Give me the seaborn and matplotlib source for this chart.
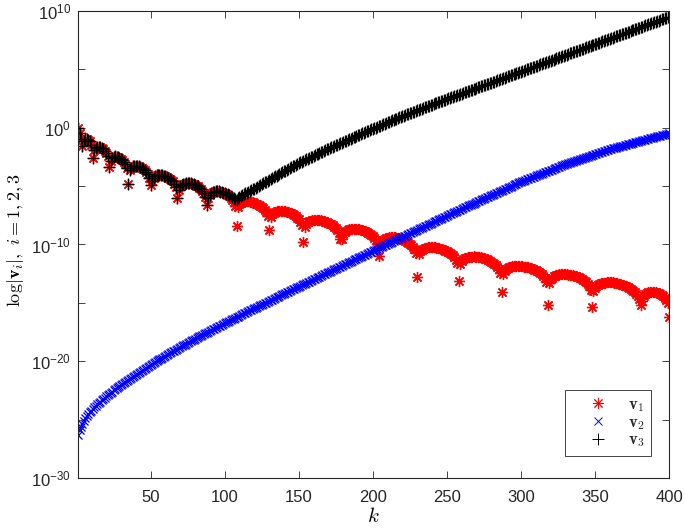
import numpy as np
import pandas as pd
import matplotlib
matplotlib.use("Agg")
import matplotlib.pyplot as plt
import seaborn as sns
from matplotlib.ticker import FixedLocator, NullFormatter, NullLocator, LogFormatterSciNotation
from matplotlib.lines import Line2D

# log10 of |v_i|, one value per k = 1..400 (rows of 10)
v1_log10 = [
    0.0, -0.45, -1.0, -1.6, -1.15, -1.0, -0.98, -1.02, -1.15, -1.45,
    -2.6, -1.92, -1.71, -1.64, -1.63, -1.66, -1.72, -1.82, -1.95, -2.15,
    -2.42, -3.35, -2.87, -2.59, -2.49, -2.46, -2.47, -2.51, -2.58, -2.65,
    -2.76, -2.92, -3.13, -3.47, -4.8, -3.66, -3.41, -3.31, -3.27, -3.26,
    -3.28, -3.32, -3.37, -3.43, -3.52, -3.64, -3.78, -3.99, -4.33, -4.9,
    -4.53, -4.27, -4.14, -4.07, -4.04, -4.03, -4.04, -4.06, -4.10, -4.14,
    -4.19, -4.27, -4.35, -4.46, -4.60, -4.78, -5.06, -6.0, -5.32, -5.03,
    -4.90, -4.82, -4.78, -4.75, -4.74, -4.75, -4.77, -4.80, -4.84, -4.89,
    -4.95, -5.03, -5.12, -5.24, -5.39, -5.59, -5.93, -6.6, -6.0, -5.73,
    -5.60, -5.52, -5.48, -5.45, -5.45, -5.45, -5.47, -5.50, -5.55, -5.61,
    -5.68, -5.76, -5.87, -5.99, -6.15, -6.35, -6.70, -8.4, -6.82, -6.56,
    -6.44, -6.37, -6.33, -6.31, -6.31, -6.31, -6.33, -6.36, -6.40, -6.44,
    -6.49, -6.54, -6.61, -6.69, -6.79, -6.90, -7.05, -7.26, -7.59, -8.75,
    -7.67, -7.41, -7.28, -7.19, -7.15, -7.12, -7.10, -7.10, -7.11, -7.13,
    -7.15, -7.18, -7.22, -7.28, -7.33, -7.40, -7.49, -7.58, -7.69, -7.84,
    -8.05, -8.37, -9.8, -8.49, -8.22, -8.08, -7.99, -7.95, -7.92, -7.89,
    -7.88, -7.89, -7.90, -7.91, -7.93, -7.97, -8.00, -8.04, -8.09, -8.14,
    -8.21, -8.28, -8.37, -8.47, -8.60, -8.77, -9.02, -9.51, -9.55, -9.11,
    -8.92, -8.81, -8.74, -8.69, -8.66, -8.65, -8.64, -8.65, -8.66, -8.68,
    -8.70, -8.73, -8.77, -8.81, -8.87, -8.92, -8.99, -9.08, -9.17, -9.28,
    -9.43, -9.63, -9.96, -11.0, -10.01, -9.74, -9.61, -9.52, -9.47, -9.43,
    -9.40, -9.39, -9.38, -9.39, -9.40, -9.42, -9.45, -9.48, -9.53, -9.57,
    -9.63, -9.69, -9.76, -9.85, -9.95, -10.06, -10.22, -10.41, -10.74, -12.8,
    -10.84, -10.57, -10.43, -10.35, -10.29, -10.26, -10.23, -10.22, -10.22, -10.22,
    -10.23, -10.25, -10.27, -10.30, -10.33, -10.37, -10.41, -10.46, -10.52, -10.58,
    -10.65, -10.73, -10.82, -10.94, -11.09, -11.29, -11.61, -13.1, -11.69, -11.41,
    -11.28, -11.17, -11.12, -11.08, -11.05, -11.04, -11.03, -11.02, -11.03, -11.05,
    -11.07, -11.09, -11.11, -11.15, -11.19, -11.22, -11.27, -11.33, -11.39, -11.46,
    -11.55, -11.64, -11.75, -11.91, -12.09, -12.43, -14.05, -12.50, -12.23, -12.09,
    -11.99, -11.93, -11.89, -11.86, -11.84, -11.83, -11.82, -11.83, -11.84, -11.84,
    -11.87, -11.89, -11.91, -11.94, -11.97, -12.01, -12.05, -12.10, -12.15, -12.21,
    -12.29, -12.36, -12.45, -12.57, -12.71, -12.90, -13.22, -15.2, -13.26, -12.99,
    -12.83, -12.74, -12.67, -12.62, -12.60, -12.57, -12.55, -12.55, -12.55, -12.55,
    -12.56, -12.58, -12.60, -12.62, -12.65, -12.69, -12.73, -12.77, -12.82, -12.89,
    -12.96, -13.03, -13.12, -13.23, -13.38, -13.58, -13.89, -15.35, -13.99, -13.71,
    -13.55, -13.45, -13.39, -13.34, -13.30, -13.28, -13.26, -13.25, -13.25, -13.24,
    -13.25, -13.25, -13.28, -13.29, -13.31, -13.35, -13.39, -13.43, -13.47, -13.52,
    -13.58, -13.64, -13.71, -13.78, -13.87, -13.96, -14.07, -14.21, -14.39, -14.65,
    -15.22, -14.82, -14.43, -14.26, -14.17, -14.11, -14.07, -14.06, -14.06, -14.07,
    -14.10, -14.13, -14.18, -14.25, -14.33, -14.43, -14.56, -14.74, -15.0, -16.2,
]

v2_log10 = [
    -26.30, -25.90, -25.60, -25.34, -25.11, -24.90, -24.71, -24.54, -24.38, -24.23,
    -24.09, -23.95, -23.82, -23.69, -23.57, -23.45, -23.34, -23.22, -23.12, -23.01,
    -22.91, -22.80, -22.70, -22.60, -22.50, -22.40, -22.31, -22.21, -22.12, -22.02,
    -21.93, -21.84, -21.75, -21.66, -21.57, -21.48, -21.40, -21.31, -21.23, -21.14,
    -21.05, -20.97, -20.89, -20.81, -20.73, -20.64, -20.56, -20.48, -20.40, -20.31,
    -20.24, -20.16, -20.08, -20.00, -19.92, -19.84, -19.77, -19.69, -19.61, -19.53,
    -19.46, -19.38, -19.31, -19.23, -19.16, -19.09, -19.01, -18.94, -18.86, -18.79,
    -18.72, -18.65, -18.58, -18.51, -18.44, -18.36, -18.29, -18.22, -18.15, -18.08,
    -18.01, -17.95, -17.88, -17.81, -17.74, -17.67, -17.61, -17.54, -17.47, -17.40,
    -17.33, -17.27, -17.20, -17.14, -17.07, -17.01, -16.94, -16.87, -16.81, -16.74,
    -16.68, -16.61, -16.55, -16.49, -16.42, -16.36, -16.29, -16.23, -16.17, -16.10,
    -16.04, -15.97, -15.91, -15.85, -15.78, -15.72, -15.65, -15.59, -15.53, -15.46,
    -15.40, -15.34, -15.28, -15.21, -15.15, -15.09, -15.03, -14.97, -14.90, -14.84,
    -14.78, -14.72, -14.66, -14.59, -14.53, -14.47, -14.41, -14.35, -14.28, -14.22,
    -14.16, -14.10, -14.04, -13.97, -13.91, -13.85, -13.79, -13.73, -13.66, -13.60,
    -13.54, -13.48, -13.42, -13.36, -13.30, -13.23, -13.17, -13.11, -13.05, -12.99,
    -12.93, -12.87, -12.81, -12.75, -12.69, -12.62, -12.56, -12.50, -12.44, -12.38,
    -12.32, -12.26, -12.20, -12.14, -12.08, -12.01, -11.95, -11.89, -11.83, -11.77,
    -11.71, -11.65, -11.59, -11.53, -11.47, -11.40, -11.34, -11.28, -11.22, -11.16,
    -11.10, -11.04, -10.98, -10.92, -10.86, -10.79, -10.73, -10.67, -10.61, -10.55,
    -10.49, -10.43, -10.37, -10.31, -10.25, -10.19, -10.13, -10.07, -10.01, -9.95,
    -9.89, -9.83, -9.77, -9.71, -9.65, -9.59, -9.53, -9.47, -9.41, -9.35,
    -9.29, -9.23, -9.17, -9.11, -9.05, -8.99, -8.93, -8.87, -8.81, -8.75,
    -8.69, -8.63, -8.57, -8.51, -8.45, -8.39, -8.33, -8.27, -8.21, -8.15,
    -8.09, -8.03, -7.97, -7.91, -7.85, -7.79, -7.73, -7.67, -7.61, -7.55,
    -7.49, -7.43, -7.37, -7.31, -7.25, -7.19, -7.13, -7.07, -7.01, -6.95,
    -6.89, -6.83, -6.78, -6.72, -6.66, -6.60, -6.54, -6.49, -6.43, -6.37,
    -6.31, -6.25, -6.20, -6.14, -6.08, -6.02, -5.96, -5.91, -5.85, -5.79,
    -5.73, -5.67, -5.62, -5.56, -5.50, -5.44, -5.38, -5.33, -5.27, -5.21,
    -5.15, -5.09, -5.04, -4.98, -4.92, -4.86, -4.80, -4.75, -4.69, -4.63,
    -4.58, -4.53, -4.48, -4.43, -4.38, -4.33, -4.28, -4.23, -4.18, -4.13,
    -4.08, -4.03, -3.98, -3.93, -3.88, -3.83, -3.78, -3.73, -3.68, -3.63,
    -3.58, -3.53, -3.48, -3.43, -3.38, -3.33, -3.28, -3.23, -3.18, -3.13,
    -3.09, -3.04, -3.00, -2.96, -2.91, -2.87, -2.83, -2.79, -2.74, -2.70,
    -2.66, -2.61, -2.57, -2.53, -2.48, -2.44, -2.40, -2.36, -2.31, -2.27,
    -2.23, -2.18, -2.14, -2.10, -2.05, -2.01, -1.97, -1.93, -1.88, -1.84,
    -1.81, -1.77, -1.74, -1.70, -1.67, -1.64, -1.60, -1.57, -1.53, -1.50,
    -1.47, -1.43, -1.40, -1.36, -1.33, -1.30, -1.26, -1.23, -1.19, -1.16,
    -1.13, -1.09, -1.06, -1.02, -0.99, -0.96, -0.92, -0.89, -0.85, -0.82,
    -0.79, -0.75, -0.72, -0.68, -0.65, -0.62, -0.58, -0.55, -0.51, -0.48,
]

v3_log10 = [
    0.0, -0.45, -1.0, -1.6, -1.15, -1.0, -0.98, -1.02, -1.15, -1.45,
    -2.6, -1.92, -1.71, -1.64, -1.63, -1.66, -1.72, -1.82, -1.95, -2.15,
    -2.42, -3.35, -2.87, -2.59, -2.49, -2.46, -2.47, -2.51, -2.58, -2.65,
    -2.76, -2.92, -3.13, -3.47, -4.8, -3.66, -3.41, -3.31, -3.27, -3.26,
    -3.28, -3.32, -3.37, -3.43, -3.52, -3.64, -3.78, -3.99, -4.33, -4.9,
    -4.53, -4.27, -4.14, -4.07, -4.04, -4.03, -4.04, -4.06, -4.10, -4.14,
    -4.19, -4.27, -4.35, -4.46, -4.60, -4.78, -5.06, -6.0, -5.32, -5.03,
    -4.90, -4.82, -4.78, -4.75, -4.74, -4.75, -4.77, -4.80, -4.84, -4.89,
    -4.95, -5.03, -5.12, -5.24, -5.39, -5.59, -5.93, -6.6, -6.0, -5.73,
    -5.60, -5.52, -5.48, -5.45, -5.45, -5.45, -5.47, -5.50, -5.55, -5.58,
    -5.64, -5.71, -5.80, -5.88, -5.97, -6.05, -6.14, -6.20, -6.04, -5.93,
    -5.84, -5.76, -5.69, -5.62, -5.56, -5.49, -5.42, -5.36, -5.29, -5.21,
    -5.14, -5.07, -4.99, -4.91, -4.83, -4.75, -4.68, -4.61, -4.53, -4.46,
    -4.39, -4.32, -4.25, -4.17, -4.10, -4.03, -3.96, -3.89, -3.81, -3.74,
    -3.67, -3.60, -3.53, -3.45, -3.38, -3.31, -3.24, -3.17, -3.09, -3.03,
    -2.97, -2.90, -2.84, -2.78, -2.72, -2.66, -2.60, -2.53, -2.47, -2.41,
    -2.35, -2.29, -2.23, -2.16, -2.10, -2.04, -1.98, -1.92, -1.85, -1.79,
    -1.73, -1.67, -1.62, -1.56, -1.50, -1.45, -1.39, -1.33, -1.27, -1.22,
    -1.16, -1.10, -1.05, -0.99, -0.93, -0.87, -0.82, -0.76, -0.70, -0.65,
    -0.59, -0.53, -0.48, -0.42, -0.37, -0.31, -0.26, -0.20, -0.15, -0.09,
    -0.04, 0.02, 0.07, 0.13, 0.18, 0.24, 0.29, 0.35, 0.40, 0.46,
    0.51, 0.57, 0.62, 0.68, 0.73, 0.79, 0.84, 0.89, 0.94, 0.99,
    1.04, 1.09, 1.14, 1.19, 1.24, 1.29, 1.34, 1.39, 1.44, 1.49,
    1.54, 1.59, 1.64, 1.69, 1.74, 1.79, 1.84, 1.89, 1.94, 1.99,
    2.04, 2.08, 2.13, 2.18, 2.23, 2.27, 2.32, 2.37, 2.41, 2.46,
    2.51, 2.55, 2.60, 2.65, 2.70, 2.74, 2.79, 2.84, 2.88, 2.93,
    2.98, 3.02, 3.07, 3.12, 3.17, 3.21, 3.26, 3.31, 3.35, 3.40,
    3.45, 3.49, 3.54, 3.59, 3.64, 3.68, 3.73, 3.78, 3.82, 3.87,
    3.92, 3.96, 4.01, 4.06, 4.11, 4.15, 4.20, 4.25, 4.29, 4.34,
    4.39, 4.43, 4.48, 4.53, 4.58, 4.62, 4.67, 4.72, 4.76, 4.81,
    4.86, 4.90, 4.95, 5.00, 5.05, 5.09, 5.14, 5.19, 5.23, 5.28,
    5.33, 5.37, 5.42, 5.47, 5.52, 5.56, 5.61, 5.66, 5.70, 5.75,
    5.80, 5.84, 5.89, 5.94, 5.99, 6.03, 6.08, 6.13, 6.17, 6.22,
    6.27, 6.31, 6.36, 6.41, 6.46, 6.50, 6.55, 6.60, 6.64, 6.69,
    6.74, 6.78, 6.83, 6.88, 6.93, 6.97, 7.02, 7.07, 7.11, 7.16,
    7.21, 7.25, 7.30, 7.35, 7.40, 7.44, 7.49, 7.54, 7.58, 7.63,
    7.68, 7.72, 7.77, 7.82, 7.87, 7.91, 7.96, 8.01, 8.05, 8.10,
    8.15, 8.19, 8.24, 8.29, 8.34, 8.38, 8.43, 8.48, 8.52, 8.57,
    8.62, 8.66, 8.71, 8.76, 8.81, 8.85, 8.90, 8.95, 8.99, 9.04,
    9.09, 9.13, 9.18, 9.23, 9.28, 9.32, 9.37, 9.42, 9.46, 9.51,
]

series_labels = [r'$\mathbf{v_1}$', r'$\mathbf{v_2}$', r'$\mathbf{v_3}$']
x_ticks = [50, 100, 150, 200, 250, 300, 350, 400]
y_label_exponents = [-30, -20, -10, 0, 10]
y_unlabeled_exponents = [-25, -15, -5, 5]

sns.set_style("ticks")
plt.rcParams['font.family'] = ['Liberation Sans', 'DejaVu Sans']
plt.rcParams['axes.unicode_minus'] = False

AX_COL = '#262626'
fig = plt.figure(figsize=(6.85, 5.28), dpi=100)
ax = fig.add_axes([0.1139, 0.0947, 0.8628, 0.8845])
ax.set_yscale('log')

MEW = 0.95
styles = [
    dict(color=(1, 0, 0), marker=(8, 2, 0), ms=8.0),
    dict(color=(0, 0, 1), marker='x', ms=5.8),
    dict(color=(0, 0, 0), marker='+', ms=8.0),
]
handles = []
for vals, lab, st in zip([v1_log10, v2_log10, v3_log10], series_labels, styles):
    df = pd.DataFrame({'k': np.arange(1, len(vals) + 1), 'v': np.power(10.0, np.asarray(vals))})
    sns.lineplot(data=df, x='k', y='v', ax=ax, estimator=None, errorbar=None, sort=False,
                 color=st['color'], marker=st['marker'], markersize=st['ms'],
                 markeredgewidth=MEW, markeredgecolor=st['color'], markerfacecolor='none',
                 linestyle='', legend=False)
    handles.append(Line2D([], [], linestyle='', marker=st['marker'], color=st['color'],
                          markersize=st['ms'], markeredgewidth=0.7))

ax.set_xlim(1, 400)
ax.set_ylim(1e-30, 1e10)
ax.xaxis.set_major_locator(FixedLocator(x_ticks))
ax.xaxis.set_minor_locator(NullLocator())
ax.yaxis.set_major_locator(FixedLocator([10.0 ** e for e in y_label_exponents]))
ax.yaxis.set_minor_locator(FixedLocator([10.0 ** e for e in y_unlabeled_exponents]))
ax.yaxis.set_major_formatter(LogFormatterSciNotation())
ax.yaxis.set_minor_formatter(NullFormatter())

ax.tick_params(which='both', direction='in', top=True, right=True, length=5, width=0.6,
               color=AX_COL, labelcolor=AX_COL, labelsize=12)
ax.tick_params(axis='x', pad=9)
ax.tick_params(axis='y', pad=5)
for sp in ax.spines.values():
    sp.set_visible(True)
    sp.set_color(AX_COL)
    sp.set_linewidth(0.8)

ax.set_xlabel(r'$k$', fontsize=15, math_fontfamily='cm', color='k')
ax.xaxis.set_label_coords(0.5, -0.062)
ax.set_ylabel(r'$\log|\mathbf{v}_i|,\ i=1,2,3$', fontsize=13, math_fontfamily='cm', color='k')
ax.yaxis.set_label_coords(-0.088, 0.51)

leg = ax.legend(handles, series_labels, loc='lower right', bbox_to_anchor=(0.9695, 0.0471),
                borderaxespad=0, frameon=True, fancybox=False, framealpha=1,
                edgecolor=AX_COL, fontsize=12, handlelength=3.1, handletextpad=0.25,
                labelspacing=0.05, borderpad=0.4)
leg.get_frame().set_linewidth(0.6)
for t in leg.get_texts():
    t.set_math_fontfamily('cm')

fig.savefig('out.png', dpi=100)
